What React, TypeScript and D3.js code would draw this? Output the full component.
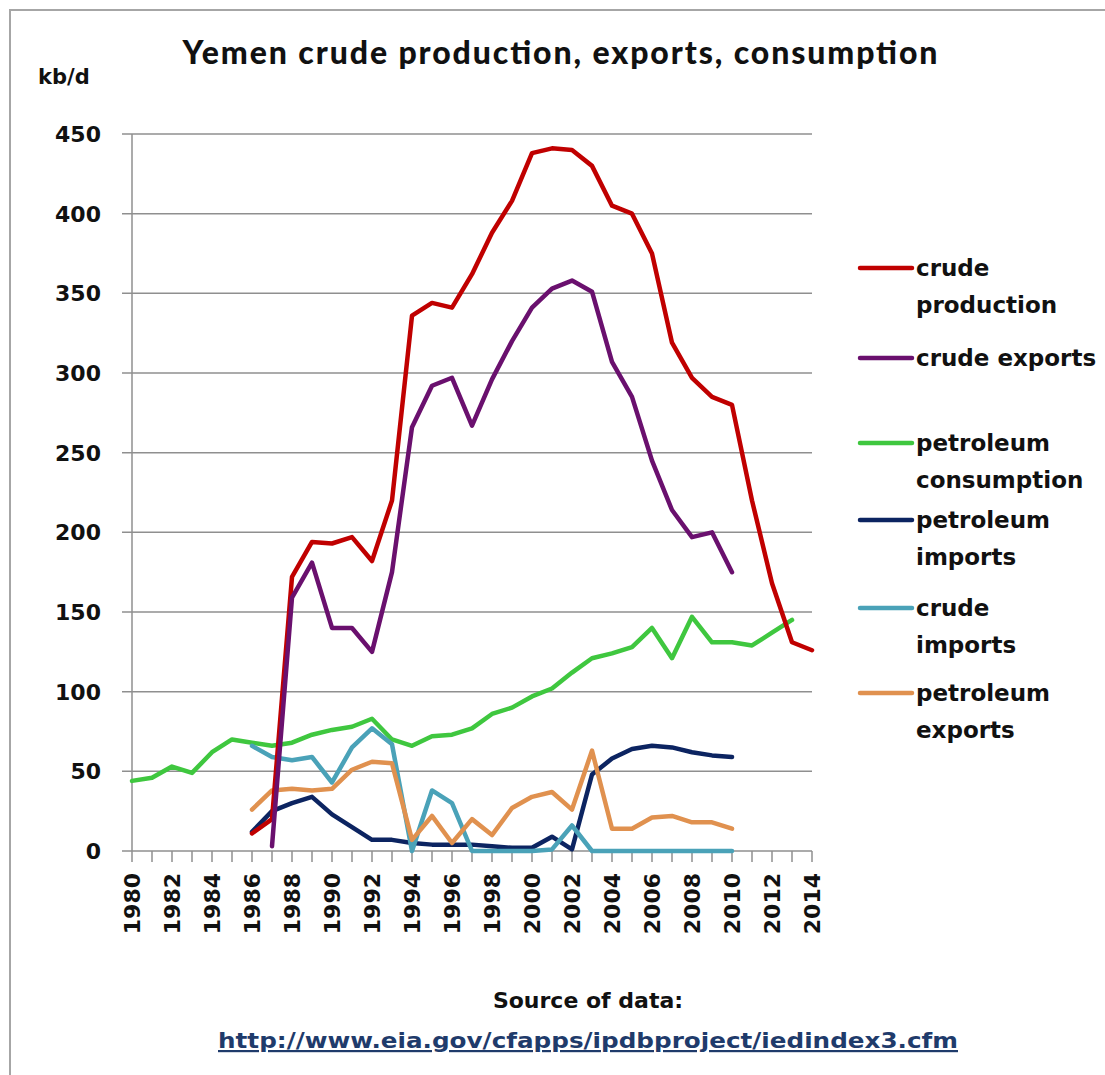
import * as d3 from 'd3';

// kb/d
const years = d3.range(1980, 2015);
const yTicks = [0, 50, 100, 150, 200, 250, 300, 350, 400, 450];
const xTickLabels = d3.range(1980, 2015, 2);

const crudeProductionStart = 1986;
const crudeProduction = [11, 20, 172, 194, 193, 197, 182, 220, 336, 344, 341, 362, 388, 408, 438, 441, 440, 430, 405, 400, 375, 319, 297, 285, 280, 220, 168, 131, 126];

const crudeExportsStart = 1987;
const crudeExports = [3, 159, 181, 140, 140, 125, 175, 266, 292, 297, 267, 296, 320, 341, 353, 358, 351, 307, 285, 245, 214, 197, 200, 175];

const consumptionStart = 1980;
const consumption = [44, 46, 53, 49, 62, 70, 68, 66, 68, 73, 76, 78, 83, 70, 66, 72, 73, 77, 86, 90, 97, 102, 112, 121, 124, 128, 140, 121, 147, 131, 131, 129, 137, 145];

const petImportsStart = 1986;
const petImports = [12, 25, 30, 34, 23, 15, 7, 7, 5, 4, 4, 4, 3, 2, 2, 9, 1, 48, 58, 64, 66, 65, 62, 60, 59];

const crudeImportsStart = 1986;
const crudeImports = [66, 59, 57, 59, 43, 65, 77, 67, 0, 38, 30, 0, 0, 0, 0, 1, 16, 0, 0, 0, 0, 0, 0, 0, 0];

const petExportsStart = 1986;
const petExports = [26, 38, 39, 38, 39, 51, 56, 55, 7, 22, 5, 20, 10, 27, 34, 37, 26, 63, 14, 14, 21, 22, 18, 18, 14];

type Series = { label: string[]; color: string; start: number; values: number[] };

const series: Series[] = [
  { label: ['crude', 'production'], color: '#c00000', start: crudeProductionStart, values: crudeProduction },
  { label: ['crude exports'], color: '#6a106e', start: crudeExportsStart, values: crudeExports },
  { label: ['petroleum', 'consumption'], color: '#3fc73f', start: consumptionStart, values: consumption },
  { label: ['petroleum', 'imports'], color: '#0c2461', start: petImportsStart, values: petImports },
  { label: ['crude', 'imports'], color: '#4aa2b8', start: crudeImportsStart, values: crudeImports },
  { label: ['petroleum', 'exports'], color: '#e0914f', start: petExportsStart, values: petExports },
];

// draw order: lower series first, big ones on top
const drawOrder = [2, 3, 4, 5, 0, 1];
// legend row positions (first text line centre)
const legendY = [268, 358, 443, 520, 608, 693];

const W = 1105;
const H = 1075;
const font = '"DejaVu Sans", Verdana, sans-serif';

export default function App() {
  const x = d3.scaleLinear().domain([1980, 2014]).range([132, 812]);
  const y = d3.scaleLinear().domain([0, 450]).range([851, 134]);

  const line = d3
    .line<[number, number]>()
    .x((d) => x(d[0]))
    .y((d) => y(d[1]));

  return (
    <svg width={W} height={H} style={{ position: 'absolute', left: 0, top: 0, background: '#fff' }}>
      <rect x={10} y={10} width={W} height={H} fill="#fff" stroke="#a6a6a6" strokeWidth={2} />

      <text x={560} y={64} textAnchor="middle" fontFamily="Lato, sans-serif" fontWeight={900} fontSize={32} textLength={755} lengthAdjust="spacing" fill="#111">
        Yemen crude production,  exports, consumption
      </text>
      <text x={38} y={84} fontFamily={font} fontWeight={700} fontSize={21} fill="#111">
        kb/d
      </text>

      {/* gridlines */}
      {yTicks.map((t) => (
        <g key={t}>
          <line x1={122} x2={812} y1={y(t)} y2={y(t)} stroke="#8f8f8f" strokeWidth={1.5} />
          <text x={101} y={y(t) + 8} textAnchor="end" fontFamily={font} fontWeight={700} fontSize={22} fill="#111">
            {t}
          </text>
        </g>
      ))}

      {/* axes */}
      <line x1={132} x2={132} y1={y(450)} y2={y(0)} stroke="#8f8f8f" strokeWidth={1.5} />
      {years.map((yr) => (
        <line key={yr} x1={x(yr)} x2={x(yr)} y1={y(0)} y2={y(0) + 11} stroke="#8f8f8f" strokeWidth={1.5} />
      ))}
      {xTickLabels.map((yr) => (
        <text
          key={yr}
          transform={`translate(${x(yr) + 8},873) rotate(-90)`}
          textAnchor="end"
          fontFamily={font}
          fontWeight={700}
          fontSize={22}
          fill="#111"
        >
          {yr}
        </text>
      ))}

      {/* series */}
      {drawOrder.map((i) => {
        const s = series[i];
        const pts = s.values.map((v, k) => [s.start + k, v] as [number, number]);
        return (
          <path key={i} d={line(pts) ?? ''} fill="none" stroke={s.color} strokeWidth={4.5} strokeLinejoin="round" strokeLinecap="round" />
        );
      })}

      {/* legend */}
      {series.map((s, i) => (
        <g key={i}>
          <line x1={860} x2={912} y1={legendY[i]} y2={legendY[i]} stroke={s.color} strokeWidth={4.5} strokeLinecap="round" />
          {s.label.map((l, j) => (
            <text key={j} x={916} y={legendY[i] + 8 + j * 37} fontFamily={font} fontWeight={700} fontSize={23} fill="#111">
              {l}
            </text>
          ))}
        </g>
      ))}

      <text x={588} y={1008} textAnchor="middle" fontFamily={font} fontWeight={700} fontSize={22} fill="#111">
        Source of data:
      </text>
      <text x={588} y={1048} textAnchor="middle" fontFamily={font} fontWeight={700} fontSize={22} fill="#1f3b6b" textLength={740} lengthAdjust="spacingAndGlyphs" textDecoration="underline">
        http://www.eia.gov/cfapps/ipdbproject/iedindex3.cfm
      </text>
    </svg>
  );
}
